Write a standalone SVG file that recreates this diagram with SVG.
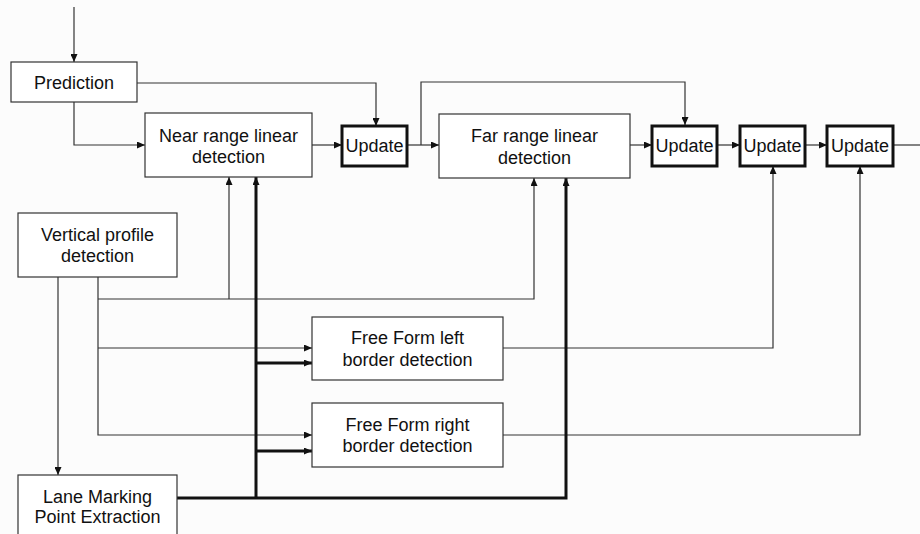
<svg xmlns="http://www.w3.org/2000/svg" width="920" height="534" viewBox="0 0 920 534">
<defs>
<marker id="ah" markerUnits="userSpaceOnUse" markerWidth="8" markerHeight="7" refX="8" refY="3.5" orient="auto"><path d="M0,0 L8,3.5 L0,7 Z" fill="#111"/></marker>
<style>
.box{fill:#fff;stroke:#333;stroke-width:1.2}
.upd{fill:#fff;stroke:#111;stroke-width:3}
.t{font-family:"Liberation Sans",Arial,sans-serif;font-size:18px;fill:#111;text-anchor:middle}
.c{fill:none;stroke:#333;stroke-width:1.2}
.k{fill:none;stroke:#111;stroke-width:3}
</style>
</defs>
<rect width="920" height="534" fill="#fcfcfc"/>
<g id="connectors">
<path class="c" d="M74,7 V62" marker-end="url(#ah)"/>
<path class="c" d="M74,102 V145 H145" marker-end="url(#ah)"/>
<path class="c" d="M137,83 H376 V126" marker-end="url(#ah)"/>
<path class="c" d="M312,145 H342" marker-end="url(#ah)"/>
<path class="c" d="M407,145 H439" marker-end="url(#ah)"/>
<path class="c" d="M421,145 V82 H685 V125" marker-end="url(#ah)"/>
<path class="c" d="M630,145 H652" marker-end="url(#ah)"/>
<path class="c" d="M717,145 H740" marker-end="url(#ah)"/>
<path class="c" d="M805,145 H827" marker-end="url(#ah)"/>
<path class="c" d="M893,145 H920"/>
<path class="c" d="M58,277 V475" marker-end="url(#ah)"/>
<path class="c" d="M98,277 V435 H312" marker-end="url(#ah)"/>
<path class="c" d="M98,299 H534 V178" marker-end="url(#ah)"/>
<path class="c" d="M229,299 V177" marker-end="url(#ah)"/>
<path class="c" d="M98,348 H312" marker-end="url(#ah)"/>
<path class="c" d="M503,348 H773 V166" marker-end="url(#ah)"/>
<path class="c" d="M503,435 H860 V166" marker-end="url(#ah)"/>
<path class="k" d="M177,498 H566 V178" marker-end="url(#ah)"/>
<path class="k" d="M256,498 V177" marker-end="url(#ah)"/>
<path class="k" d="M256,363 H312" marker-end="url(#ah)"/>
<path class="k" d="M256,451 H312" marker-end="url(#ah)"/>
</g>
<g id="prediction"><rect class="box" x="11" y="62" width="126" height="40"/><text class="t" x="74" y="89">Prediction</text></g>
<g id="near"><rect class="box" x="145" y="113" width="167" height="64"/><text class="t" x="228.5" y="142">Near range linear</text><text class="t" x="228.5" y="163">detection</text></g>
<g id="update1"><rect class="upd" x="342" y="126" width="65" height="40"/><text class="t" x="374.5" y="152">Update</text></g>
<g id="far"><rect class="box" x="439" y="114" width="191" height="64"/><text class="t" x="534.5" y="142">Far range linear</text><text class="t" x="534.5" y="164">detection</text></g>
<g id="update2"><rect class="upd" x="652" y="126" width="65" height="40"/><text class="t" x="684.5" y="152">Update</text></g>
<g id="update3"><rect class="upd" x="740" y="126" width="65" height="40"/><text class="t" x="772.5" y="152">Update</text></g>
<g id="update4"><rect class="upd" x="827" y="126" width="66" height="40"/><text class="t" x="860" y="152">Update</text></g>
<g id="vertical"><rect class="box" x="18" y="213" width="159" height="64"/><text class="t" x="97.5" y="241">Vertical profile</text><text class="t" x="97.5" y="262">detection</text></g>
<g id="ffleft"><rect class="box" x="312" y="317" width="191" height="63"/><text class="t" x="407.5" y="344">Free Form left</text><text class="t" x="407.5" y="366">border detection</text></g>
<g id="ffright"><rect class="box" x="312" y="403" width="191" height="64"/><text class="t" x="407.5" y="431">Free Form right</text><text class="t" x="407.5" y="452">border detection</text></g>
<g id="lane"><rect class="box" x="18" y="475" width="159" height="70"/><text class="t" x="97.5" y="503">Lane Marking</text><text class="t" x="97.5" y="523">Point Extraction</text></g>
</svg>
